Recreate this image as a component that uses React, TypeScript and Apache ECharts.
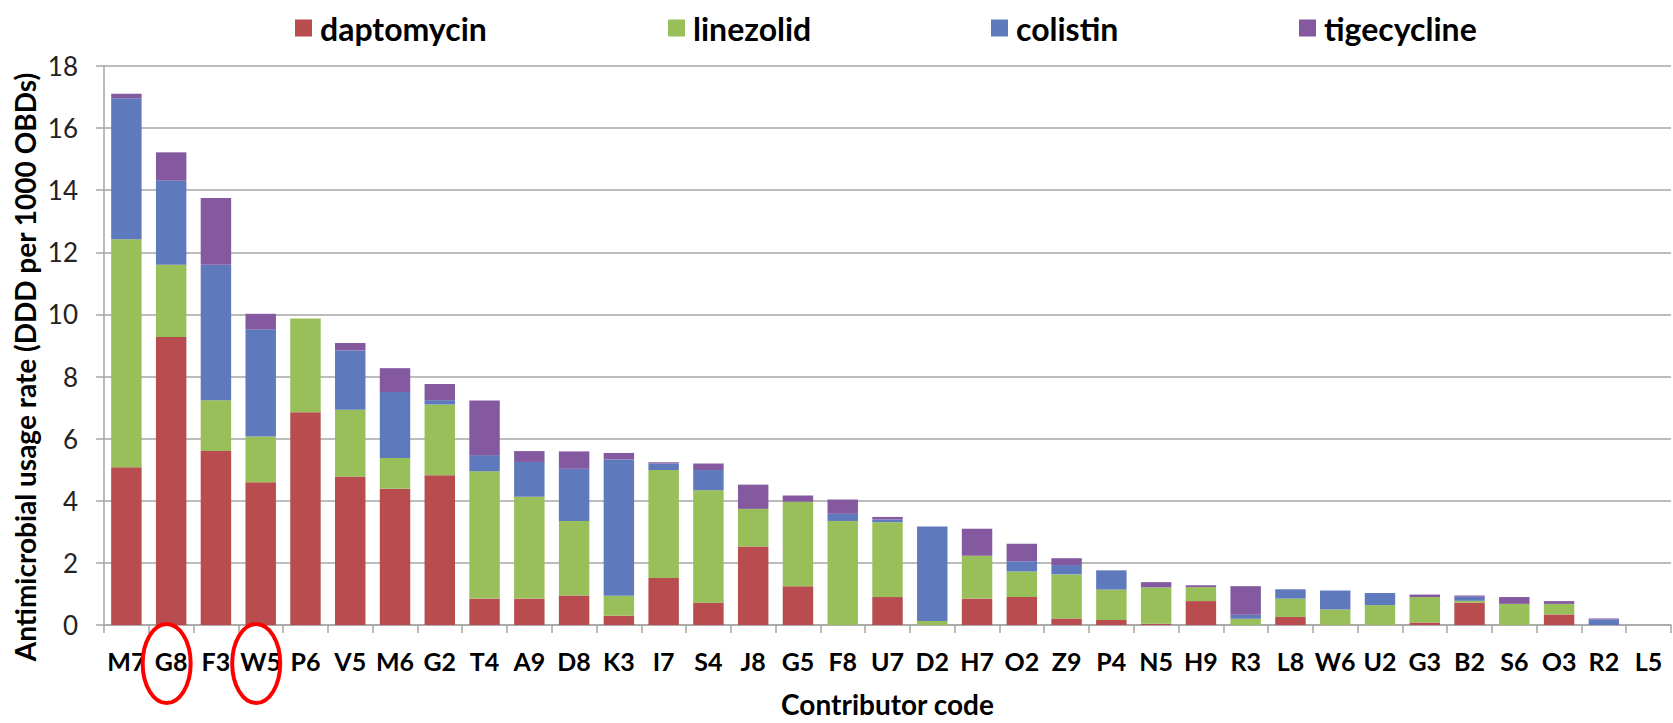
import React, { useEffect, useRef } from "react";
import * as echarts from "echarts";

const categories = ["M7","G8","F3","W5","P6","V5","M6","G2","T4","A9","D8","K3","I7","S4","J8","G5","F8","U7","D2","H7","O2","Z9","P4","N5","H9","R3","L8","W6","U2","G3","B2","S6","O3","R2","L5"];
const daptomycin = [5.08,9.27,5.60,4.60,6.85,4.78,4.39,4.82,0.85,0.85,0.95,0.30,1.51,0.72,2.53,1.25,0,0.90,0,0.85,0.90,0.21,0.16,0.04,0.77,0,0.26,0,0,0.08,0.72,0,0.34,0,0];
const linezolid = [7.34,2.33,1.64,1.47,3.02,2.15,0.99,2.28,4.10,3.28,2.40,0.64,3.48,3.62,1.21,2.72,3.35,2.41,0.13,1.38,0.82,1.42,0.98,1.17,0.45,0.20,0.59,0.50,0.64,0.82,0.06,0.68,0.34,0,0];
const colistin = [4.54,2.71,4.36,3.45,0,1.91,2.12,0.14,0.52,1.12,1.68,4.39,0.21,0.65,0,0,0.23,0.09,3.04,0,0.33,0.30,0.62,0,0,0.13,0.30,0.61,0.39,0,0.13,0,0,0.18,0];
const tigecycline = [0.15,0.91,2.15,0.50,0,0.24,0.77,0.52,1.76,0.35,0.56,0.21,0.04,0.21,0.78,0.20,0.46,0.08,0,0.87,0.57,0.22,0,0.17,0.06,0.92,0,0,0,0.08,0.04,0.22,0.09,0.03,0];
const seriesNames = ["daptomycin", "linezolid", "colistin", "tigecycline"];
const seriesColors = ["#B84C4E", "#98BF59", "#5F7ABC", "#8459A0"];
const highlighted = ["G8", "W5"];
const yTicks = { min: 0, max: 18, interval: 2 };

const FONT = "Lato, 'Open Sans', sans-serif";
const Y_TITLE = "Antimicrobial usage rate (DDD per 1000 OBDs)";

export default function App() {
  const ref = useRef<HTMLDivElement>(null);
  useEffect(() => {
    if (!ref.current) return;
    const chart = echarts.init(ref.current, undefined, { renderer: "svg" });
    const values = [daptomycin, linezolid, colistin, tigecycline];
    const legendLefts = [295, 668, 991, 1299];
    const yTitle = {
      type: "text",
      x: 25,
      y: 367,
      rotation: Math.PI / 2,
      style: {
        text: Y_TITLE,
        font: `bold 28px ${FONT}`,
        fill: "#000",
        align: "center",
        verticalAlign: "middle",
      },
    };
    chart.setOption({
      animation: false,
      textStyle: { fontFamily: FONT },
      legend: seriesNames.map((n, i) => ({
        data: [n],
        left: legendLefts[i],
        top: 12,
        padding: 0,
        icon: "rect",
        itemWidth: 17,
        itemHeight: 17,
        selectedMode: false,
        textStyle: { fontFamily: FONT, fontWeight: "bold", fontSize: 32, color: "#000", padding: [0, 0, 0, 3] },
      })),
      grid: { left: 104, right: 2, top: 66, bottom: 95.3, containLabel: false },
      xAxis: {
        type: "category",
        data: categories,
        axisLine: { lineStyle: { color: "#A6A6A6", width: 1.5 } },
        axisTick: { show: true, length: 8, alignWithLabel: false, lineStyle: { color: "#A6A6A6", width: 1.5 } },
        axisLabel: { interval: 0, margin: 23, fontFamily: FONT, fontWeight: "bold", fontSize: 25, color: "#000" },
        name: "Contributor code",
        nameLocation: "middle",
        nameGap: 65,
        nameTextStyle: { fontFamily: FONT, fontWeight: "bold", fontSize: 28, color: "#000" },
      },
      yAxis: {
        type: "value",
        min: yTicks.min,
        max: yTicks.max,
        interval: yTicks.interval,
        axisLine: { show: true, lineStyle: { color: "#A6A6A6", width: 1.5 } },
        axisTick: { show: true, length: 8, lineStyle: { color: "#A6A6A6", width: 1.5 } },
        splitLine: { lineStyle: { color: "#A6A6A6", width: 1.5 } },
        axisLabel: { margin: 26, fontFamily: FONT, fontSize: 26, color: "#222" },
      },
      series: seriesNames.map((n, i) => ({
        name: n,
        type: "bar",
        stack: "total",
        barCategoryGap: "32%",
        data: values[i],
        itemStyle: { color: seriesColors[i] },
      })),
      graphic: [yTitle],
    });
    const axisY = chart.convertToPixel({ yAxisIndex: 0 }, 0) as number;
    const ellipses = highlighted.map((c) => {
      const cx = chart.convertToPixel({ xAxisIndex: 0 }, c) as number;
      return {
        type: "ellipse",
        shape: { cx: cx - 4.5, cy: axisY + 38.5, rx: 24, ry: 39.5 },
        style: { fill: "none", stroke: "#FF0000", lineWidth: 4 },
        z: 100,
      };
    });
    chart.setOption({ graphic: [yTitle, ...ellipses] }, { replaceMerge: ["graphic"] });
    return () => chart.dispose();
  }, []);
  return <div ref={ref} style={{ position: "absolute", left: 0, top: 0, width: 1673, height: 723 }} />;
}
